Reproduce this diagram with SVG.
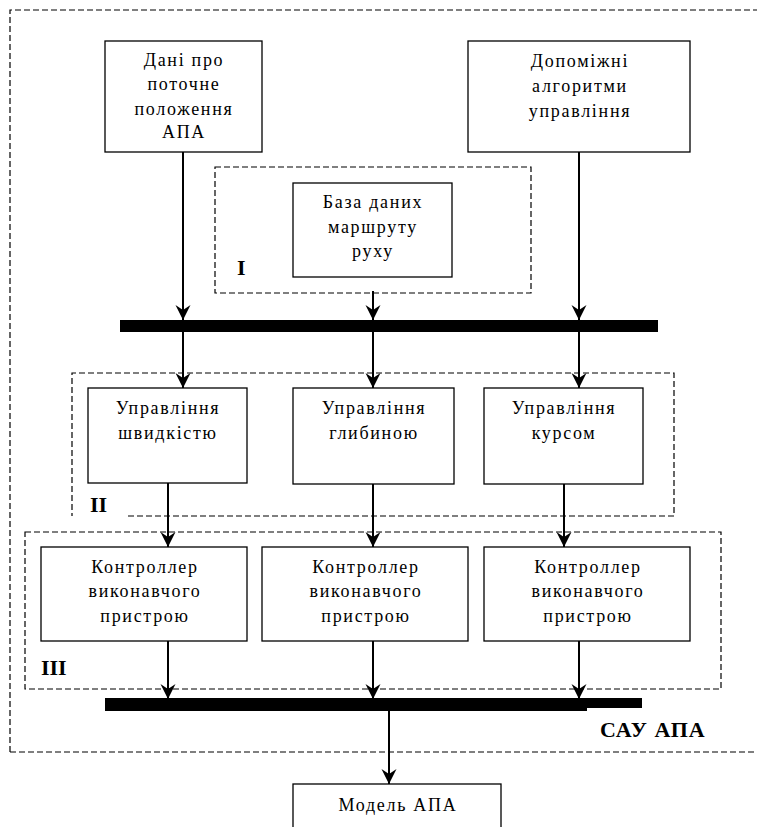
<svg xmlns="http://www.w3.org/2000/svg" width="757" height="827" viewBox="0 0 757 827">
<style>
.box{fill:#fff;stroke:#000;stroke-width:1.3}
.dash{fill:none;stroke:#000;stroke-width:1.2;stroke-dasharray:6 3}
.t{font-family:'Liberation Serif','DejaVu Serif',serif;font-size:18px;letter-spacing:1.7px;text-anchor:middle;fill:#000}
.lb{font-family:'Liberation Serif','DejaVu Serif',serif;font-size:22px;font-weight:bold;fill:#000}
.ln{stroke:#000;stroke-width:2;fill:none;marker-end:url(#ah)}
.bus{fill:#000}
</style>
<defs>
<marker id="ah" markerUnits="userSpaceOnUse" markerWidth="16" markerHeight="16" viewBox="0 -8 15 16" refX="15" refY="0" orient="auto">
<path d="M0,-7.5 L15,0 L0,7.5 L5,0 Z" fill="#000"/>
</marker>
</defs>
<rect width="757" height="827" fill="#fff"/>

<g id="outer-sau">
<path class="dash" d="M10,752 V10 H770 M10,752 H770"/>
<text class="lb" x="600" y="737" style="letter-spacing:1px">САУ АПА</text>
</g>

<g id="group-I">
<rect class="dash" x="215" y="167" width="316" height="126"/>
<text class="lb" x="237" y="275">I</text>
</g>
<g id="group-II">
<path class="dash" d="M128,516 H674 V373 H72 V516"/>
<text class="lb" x="90" y="512">II</text>
</g>
<g id="group-III">
<rect class="dash" x="25" y="532" width="696" height="157"/>
<text class="lb" x="41" y="675">III</text>
</g>

<g id="connectors">
<line class="ln" x1="183" y1="152" x2="183" y2="320"/>
<line class="ln" x1="373" y1="291" x2="373" y2="320"/>
<line class="ln" x1="579" y1="152" x2="579" y2="320"/>
<line class="ln" x1="183" y1="332" x2="183" y2="388"/>
<line class="ln" x1="373" y1="332" x2="373" y2="388"/>
<line class="ln" x1="579" y1="332" x2="579" y2="388"/>
<line class="ln" x1="168" y1="483" x2="168" y2="547"/>
<line class="ln" x1="373" y1="484" x2="373" y2="547"/>
<line class="ln" x1="564" y1="484" x2="564" y2="547"/>
<line class="ln" x1="168" y1="641" x2="168" y2="699"/>
<line class="ln" x1="373" y1="641" x2="373" y2="699"/>
<line class="ln" x1="579" y1="641" x2="579" y2="699"/>
<line class="ln" x1="389" y1="711" x2="389" y2="784"/>
</g>

<g id="bus-1"><rect class="bus" x="120" y="320" width="538" height="12"/></g>
<g id="bus-2"><path class="bus" d="M105,698 H642 V708 H587 V711 H105 Z"/></g>

<g id="node-dani">
<rect class="box" x="105" y="41" width="157" height="111"/>
<text class="t" x="184" y="66">Дані про</text>
<text class="t" x="184" y="90">поточне</text>
<text class="t" x="184" y="115">положення</text>
<text class="t" x="184" y="138">АПА</text>
</g>
<g id="node-dopomizhni">
<rect class="box" x="468" y="41" width="222" height="111"/>
<text class="t" x="580" y="67">Допоміжні</text>
<text class="t" x="580" y="92">алгоритми</text>
<text class="t" x="580" y="117">управління</text>
</g>
<g id="node-baza">
<rect class="box" x="293" y="183" width="159" height="94"/>
<text class="t" x="373" y="208">База даних</text>
<text class="t" x="373" y="233">маршруту</text>
<text class="t" x="373" y="257">руху</text>
</g>
<g id="node-shvydkist">
<rect class="box" x="88" y="388" width="159" height="95"/>
<text class="t" x="168" y="414">Управління</text>
<text class="t" x="168" y="439">швидкістю</text>
</g>
<g id="node-glybyna">
<rect class="box" x="293" y="388" width="161" height="96"/>
<text class="t" x="374" y="414">Управління</text>
<text class="t" x="374" y="439">глибиною</text>
</g>
<g id="node-kurs">
<rect class="box" x="484" y="388" width="159" height="96"/>
<text class="t" x="564" y="414">Управління</text>
<text class="t" x="564" y="439">курсом</text>
</g>
<g id="node-kontr-1">
<rect class="box" x="41" y="547" width="206" height="94"/>
<text class="t" x="145" y="573">Контроллер</text>
<text class="t" x="145" y="597">виконавчого</text>
<text class="t" x="145" y="622">пристрою</text>
</g>
<g id="node-kontr-2">
<rect class="box" x="262" y="547" width="206" height="94"/>
<text class="t" x="366" y="573">Контроллер</text>
<text class="t" x="366" y="597">виконавчого</text>
<text class="t" x="366" y="622">пристрою</text>
</g>
<g id="node-kontr-3">
<rect class="box" x="484" y="547" width="206" height="94"/>
<text class="t" x="588" y="573">Контроллер</text>
<text class="t" x="588" y="597">виконавчого</text>
<text class="t" x="588" y="622">пристрою</text>
</g>
<g id="node-model">
<rect class="box" x="293" y="784" width="208" height="60"/>
<text class="t" x="398" y="811">Модель АПА</text>
</g>
</svg>
